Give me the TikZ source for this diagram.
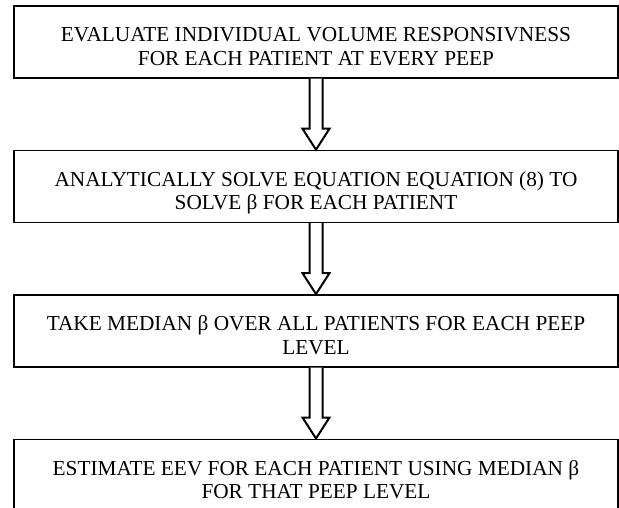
\documentclass[tikz,border=0pt]{standalone}
\usepackage{fontspec}
\setmainfont{Liberation Serif}
\usetikzlibrary{positioning,calc}

% hollow block arrow from the bottom of one box to the top of the next
\newcommand{\hollowarrow}[2]{%
	\draw[hollow] ($(#1.south)+(-6.5pt,0)$) -- ($(#2.north)+(-6.5pt,21pt)$)
		-- ++(-7pt,0) -- (#2.north) -- ++(13.5pt,21pt) -- ++(-7pt,0)
		-- ($(#1.south)+(6.5pt,0)$);}

\begin{document}
\begin{tikzpicture}[x=1pt,y=1pt,node distance=71pt,
	stepbox/.style={draw=black,line width=1.4pt,rectangle,minimum width=604pt,minimum height=72pt,inner sep=0pt,align=center,text height=47pt,text depth=0pt,font=\fontsize{21.3pt}{23.5pt}\selectfont},
	hollow/.style={draw=black,line width=2pt,fill=white,line join=miter}]
	\useasboundingbox (0,0) rectangle (619,-508);

	\node[stepbox]	(evaluate)	at (316,-42)		{EVALUATE INDIVIDUAL VOLUME RESPONSIVNESS\\FOR EACH PATIENT AT EVERY PEEP};
	\node[stepbox]	(solve)		[below=of evaluate]	{ANALYTICALLY SOLVE EQUATION EQUATION (8) TO\\SOLVE β FOR EACH PATIENT};
	\node[stepbox]	(median)	[below=of solve]	{TAKE MEDIAN β OVER ALL PATIENTS FOR EACH PEEP\\LEVEL};
	\node[stepbox]	(estimate)	[below=of median]	{ESTIMATE EEV FOR EACH PATIENT USING MEDIAN β\\FOR THAT PEEP LEVEL};

	\hollowarrow{evaluate}{solve}
	\hollowarrow{solve}{median}
	\hollowarrow{median}{estimate}
\end{tikzpicture}
\end{document}
